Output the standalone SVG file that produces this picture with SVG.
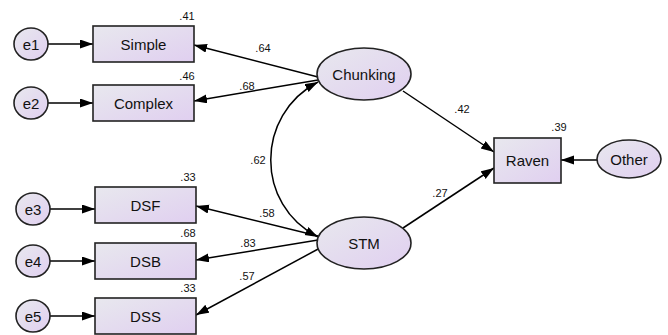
<svg xmlns="http://www.w3.org/2000/svg" width="668" height="335" viewBox="0 0 668 335">
<defs>
<linearGradient id="g" x1="0" y1="0" x2="1" y2="1">
<stop offset="0" stop-color="#e8e8ee"/>
<stop offset="1" stop-color="#e0cff0"/>
</linearGradient>
<marker id="ah" markerUnits="userSpaceOnUse" markerWidth="14" markerHeight="10" refX="13" refY="4.5" orient="auto-start-reverse">
<path d="M0,0 L13,4.5 L0,9 z" fill="#000"/>
</marker>
<style>
.n{fill:url(#g);stroke:#222;stroke-width:1.6}
.t{font-family:"Liberation Sans",Arial,sans-serif;font-size:15px;fill:#111;text-anchor:middle;dominant-baseline:central}
.l{font-family:"Liberation Sans",Arial,sans-serif;font-size:11px;fill:#111;text-anchor:middle}
.e{fill:none;stroke:#000;stroke-width:1.5;marker-end:url(#ah)}
.b{marker-start:url(#ah)}
</style>
</defs>
<g id="connectors">
<path class="e" d="M48,44 L93,44"/>
<path class="e" d="M48,103 L93,103"/>
<path class="e" d="M50,209 L95,209"/>
<path class="e" d="M50,261 L95,261"/>
<path class="e" d="M50,316 L95,316"/>
<path class="e" d="M318,77 L194,45"/>
<path class="e" d="M318,80 L194,101"/>
<path class="e" d="M318,236 L196,206"/>
<path class="e" d="M318,240 L196,260"/>
<path class="e" d="M320,248 L196,315"/>
<path class="e" d="M403,91 L494,152"/>
<path class="e" d="M403,228 L494,168"/>
<path class="e" d="M597,160 L561,160"/>
<path class="e b" d="M318,82 C255,115 255,205 318,237"/>
<text class="l" x="187" y="20">.41</text>
<text class="l" x="187" y="80">.46</text>
<text class="l" x="188" y="181">.33</text>
<text class="l" x="188" y="237">.68</text>
<text class="l" x="188" y="292">.33</text>
<text class="l" x="263" y="52">.64</text>
<text class="l" x="247" y="90">.68</text>
<text class="l" x="258" y="164">.62</text>
<text class="l" x="267" y="217">.58</text>
<text class="l" x="248" y="247">.83</text>
<text class="l" x="247" y="280">.57</text>
<text class="l" x="462" y="113">.42</text>
<text class="l" x="440" y="197">.27</text>
<text class="l" x="559" y="131">.39</text>
</g>
<g id="e1"><ellipse class="n" cx="31" cy="44" rx="17" ry="16"/><text class="t" x="31" y="44">e1</text></g>
<g id="e2"><ellipse class="n" cx="31" cy="103" rx="17" ry="16"/><text class="t" x="31" y="103">e2</text></g>
<g id="e3"><ellipse class="n" cx="33" cy="209" rx="17" ry="16"/><text class="t" x="33" y="209">e3</text></g>
<g id="e4"><ellipse class="n" cx="33" cy="261" rx="17" ry="16"/><text class="t" x="33" y="261">e4</text></g>
<g id="e5"><ellipse class="n" cx="33" cy="316" rx="17" ry="16"/><text class="t" x="33" y="316">e5</text></g>
<g id="Simple"><rect class="n" x="93" y="26" width="101" height="36"/><text class="t" x="143.5" y="44">Simple</text></g>
<g id="Complex"><rect class="n" x="93" y="85" width="101" height="36"/><text class="t" x="143.5" y="103">Complex</text></g>
<g id="DSF"><rect class="n" x="95" y="187" width="101" height="36"/><text class="t" x="145.5" y="205">DSF</text></g>
<g id="DSB"><rect class="n" x="95" y="243" width="101" height="36"/><text class="t" x="145.5" y="261">DSB</text></g>
<g id="DSS"><rect class="n" x="95" y="298" width="101" height="36"/><text class="t" x="145.5" y="316">DSS</text></g>
<g id="Chunking"><ellipse class="n" cx="364" cy="74" rx="47" ry="26"/><text class="t" x="364" y="74">Chunking</text></g>
<g id="STM"><ellipse class="n" cx="364" cy="243" rx="47" ry="26"/><text class="t" x="364" y="243">STM</text></g>
<g id="Raven"><rect class="n" x="494" y="138" width="67" height="45"/><text class="t" x="527.5" y="160.5">Raven</text></g>
<g id="Other"><ellipse class="n" cx="629" cy="159" rx="32" ry="19"/><text class="t" x="629" y="159">Other</text></g>
</svg>
